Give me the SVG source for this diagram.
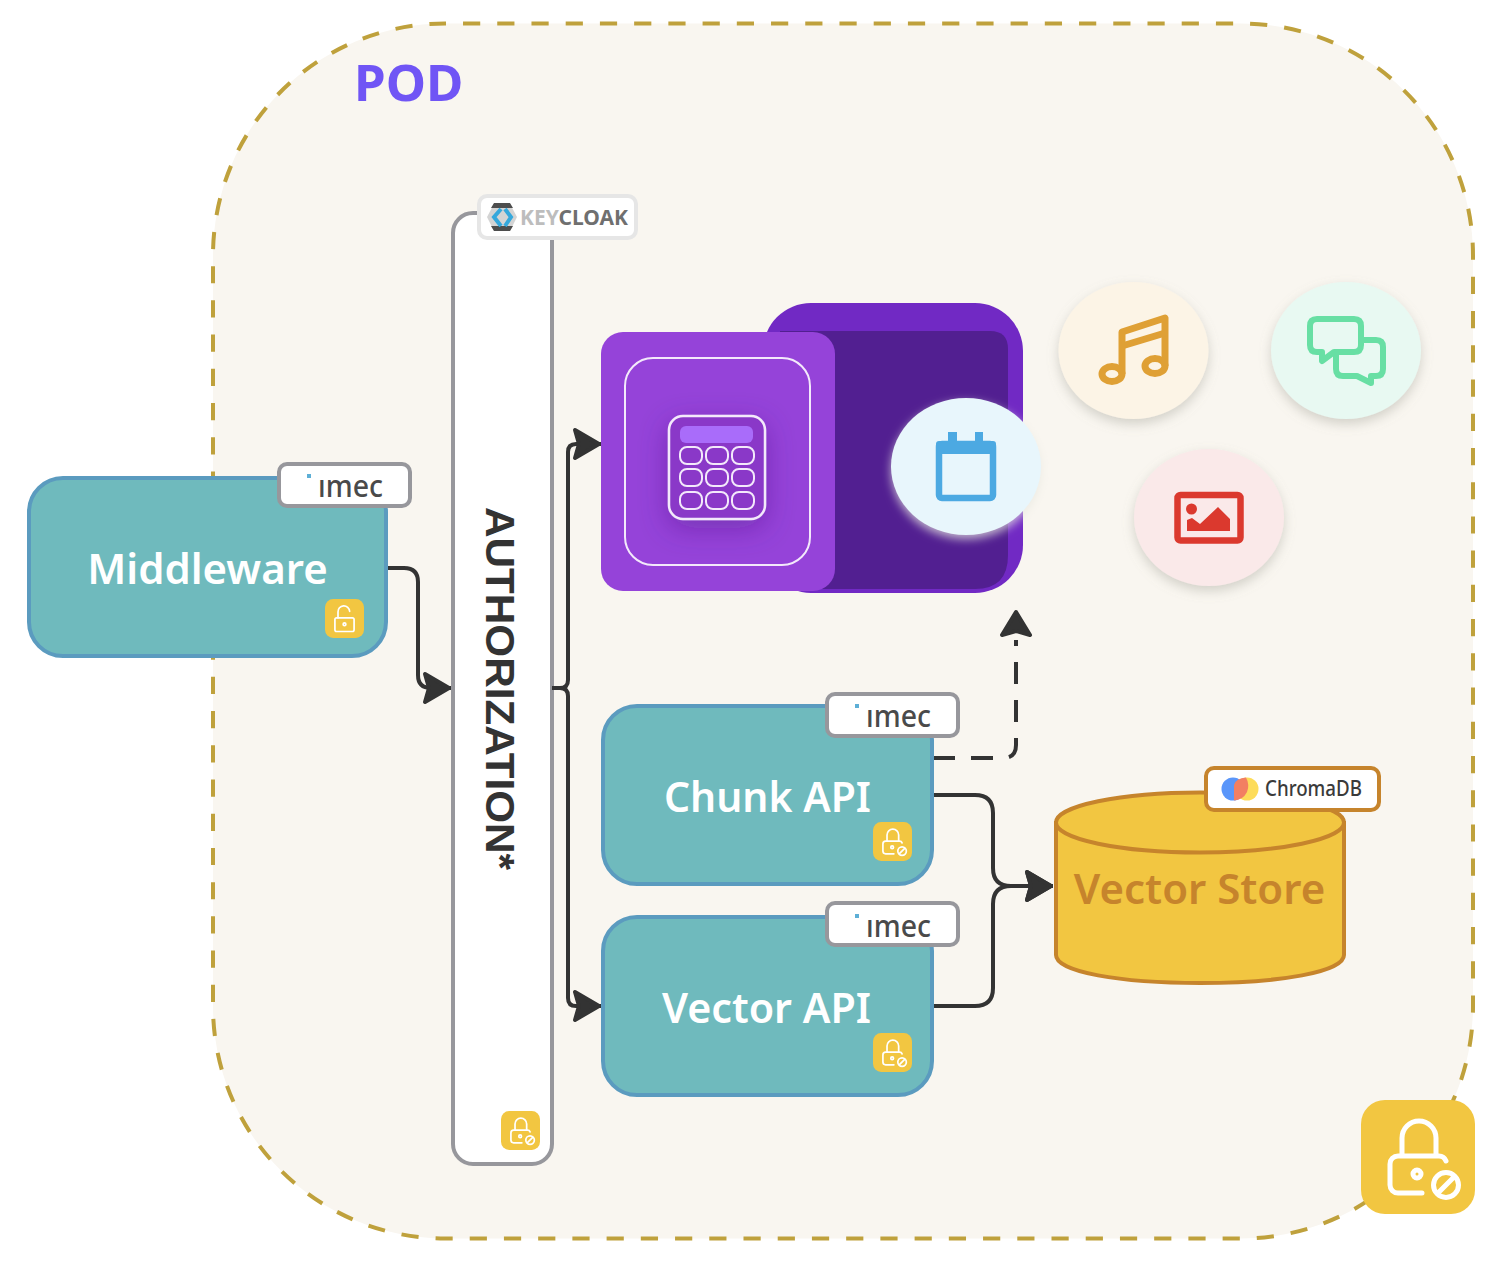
<svg xmlns="http://www.w3.org/2000/svg" width="1498" height="1264" viewBox="0 0 1498 1264">
<style>
text{font-family:"Noto Sans","Liberation Sans",sans-serif}
.api{fill:#6FBABD;stroke:#5B9BBF;stroke-width:4}
.name{fill:#fff;font-size:42px;font-weight:600;text-anchor:middle}
.badge{fill:#fff;stroke:#97979C;stroke-width:4}
.imec{fill:#4A4A4A;font-size:30px;font-weight:500}
.dot{fill:#5DAFD6}
.lockbg{fill:#F2C641}
.lk{fill:none;stroke:#fff;stroke-width:5;stroke-linecap:round;stroke-linejoin:round}
.conn{fill:none;stroke:#333;stroke-width:4;stroke-linejoin:round}
.cell{fill:#8A38C8;stroke:#F3E9FB;stroke-width:2}
</style>
<defs>
<filter id="sh" x="-20%" y="-20%" width="140%" height="140%"><feDropShadow dx="0" dy="5" stdDeviation="6" flood-color="#8a8a80" flood-opacity=".35"/></filter>
<filter id="glow" x="-20%" y="-20%" width="140%" height="140%"><feDropShadow dx="0" dy="4" stdDeviation="5" flood-color="#e8e8e0" flood-opacity=".75"/></filter>
<filter id="cs" x="-40%" y="-40%" width="180%" height="180%"><feDropShadow dx="0" dy="8" stdDeviation="14" flood-color="#4a1a80" flood-opacity=".4"/></filter>
<marker id="arrow" markerUnits="userSpaceOnUse" markerWidth="40" markerHeight="40" viewBox="-32 -20 40 40" refX="0" refY="0" orient="auto" overflow="visible">
<path d="M-26,-14 L-2,0 L-26,14 L-22,0 Z" fill="#333" stroke="#333" stroke-width="4" stroke-linejoin="round"/>
</marker>
<symbol id="lock-off" viewBox="0 0 114 114">
<rect width="114" height="114" rx="24" class="lockbg"/>
<path class="lk" d="M41,55 V38 a17,17 0 0 1 34,0 V55"/>
<path class="lk" d="M85,61 q-2,-5 -7,-5 H37 a8,8 0 0 0 -8,8 V85 a8,8 0 0 0 8,8 H61"/>
<circle class="lk" cx="56" cy="74" r="4"/>
<circle class="lk" cx="85" cy="85" r="12.5"/>
<path class="lk" d="M78,92 L92,78"/>
</symbol>
<symbol id="lock-open" viewBox="0 0 114 114">
<rect width="114" height="114" rx="24" class="lockbg"/>
<path class="lk" d="M38,55 V38 a17,17 0 0 1 34,-2"/>
<rect class="lk" x="29" y="55" width="56" height="40" rx="5"/>
<circle class="lk" cx="57" cy="74" r="4"/>
</symbol>
</defs>

<g id="pod">
<rect x="213" y="23.500" width="1260" height="1215" rx="232" fill="#F9F6F0" stroke="#BFA13C" stroke-width="4" stroke-dasharray="17.2 17.023" stroke-dashoffset="16.2"/>
<text x="354" y="101" fill="#7055F5" font-size="51" font-weight="700">POD</text>
</g>

<g id="authorization">
<rect x="453" y="213" width="99" height="951" rx="20" fill="#fff" stroke="#97979C" stroke-width="4"/>
<text transform="translate(486,507) rotate(90)" fill="#333" font-size="41" font-weight="700" textLength="363" lengthAdjust="spacingAndGlyphs" style="font-family:'Liberation Sans',sans-serif">AUTHORIZATION*</text>
<use href="#lock-off" x="501" y="1111" width="39" height="39"/>
</g>
<g id="keycloak-badge">
<rect x="479" y="196" width="157" height="42" rx="8" fill="#fff" stroke="#E6E6E6" stroke-width="4"/>
<path d="M487,217 L494,204 H510 L517,217 L510,231 H494 Z" fill="#D4D4D4"/>
<path d="M494,203 H510 L513,208 H491 Z M491,226 H513 L510,231 H494 Z" fill="#4D4D4D"/>
<path d="M501,209 L494,217 L501,226 M505,209 L511,217 L505,226" fill="none" stroke="#35A8DC" stroke-width="4"/>
<text x="520" y="225" font-size="22" font-weight="700" textLength="108" lengthAdjust="spacingAndGlyphs"><tspan fill="#BDBDBD">KEY</tspan><tspan fill="#6F6F6F">CLOAK</tspan></text>
</g>

<g id="connectors">
<path class="conn" marker-end="url(#arrow)" d="M386,568 H404 Q418,568 418,582 V675 Q418,688 431,688 H451"/>
<path class="conn" marker-end="url(#arrow)" d="M552,688 H560 Q568,688 568,680 V452 Q568,444 576,444 H601"/>
<path class="conn" marker-end="url(#arrow)" d="M552,688 H560 Q568,688 568,696 V998 Q568,1006 576,1006 H601"/>
<path class="conn" stroke-dasharray="22 16" d="M933,758 H1003 Q1016,758 1016,745 V640"/>
<path d="M1002,635 L1016,612 L1030,635 L1016,631 Z" fill="#333" stroke="#333" stroke-width="4" stroke-linejoin="round"/>
<path class="conn" marker-end="url(#arrow)" d="M933,795 H975 Q993,795 993,813 V868 Q993,886 1011,886 H1053"/>
<path class="conn" marker-end="url(#arrow)" d="M933,1006 H975 Q993,1006 993,988 V904 Q993,886 1011,886 H1053"/>
</g>

<g id="middleware">
<rect class="api" x="29" y="478" width="357" height="178" rx="34"/>
<text class="name" x="207.500" y="584">Middleware</text>
<use href="#lock-open" x="325" y="599" width="39" height="39"/>
<rect class="badge" x="279" y="464" width="131" height="42" rx="8"/>
<rect class="dot" x="307" y="474" width="4" height="4"/>
<text class="imec" x="318" y="497" textLength="65" lengthAdjust="spacingAndGlyphs">ımec</text>
</g>

<g id="chunk-api">
<rect class="api" x="603" y="706" width="329" height="178" rx="34"/>
<text class="name" x="767.500" y="811.500" textLength="207" lengthAdjust="spacingAndGlyphs">Chunk API</text>
<use href="#lock-off" x="873" y="822" width="39" height="39"/>
<rect class="badge" x="827" y="694" width="131" height="42" rx="8"/>
<rect class="dot" x="855" y="704" width="4" height="4"/>
<text class="imec" x="866" y="727" textLength="65" lengthAdjust="spacingAndGlyphs">ımec</text>
</g>

<g id="vector-api">
<rect class="api" x="603" y="917" width="329" height="178" rx="34"/>
<text class="name" x="766.500" y="1023" textLength="209" lengthAdjust="spacingAndGlyphs">Vector API</text>
<use href="#lock-off" x="873" y="1033" width="39" height="39"/>
<rect class="badge" x="827" y="903" width="131" height="42" rx="8"/>
<rect class="dot" x="855" y="914" width="4" height="4"/>
<text class="imec" x="866" y="937" textLength="65" lengthAdjust="spacingAndGlyphs">ımec</text>
</g>

<g id="vector-store">
<path d="M1056,823 V955 C1056,972 1120,983 1200,983 C1280,983 1344,972 1344,955 V823 Z" fill="#F2C641" stroke="#C6842C" stroke-width="4"/>
<ellipse cx="1200" cy="822.500" rx="144" ry="30" fill="#F2C641" stroke="#C6842C" stroke-width="4"/>
<text x="1199.500" y="904" fill="#C6842C" font-size="42" font-weight="600" text-anchor="middle">Vector Store</text>
<rect x="1206" y="768" width="173" height="42" rx="8" fill="#fff" stroke="#C6842C" stroke-width="4"/>
<circle cx="1233" cy="789" r="11.500" fill="#5A96FA"/>
<circle cx="1247" cy="789" r="11.500" fill="#FDDC5A"/>
<path d="M1234,800.500 V785 Q1236,778 1246,777.500 Q1250,785 1247,792 Q1243,800 1234,800.500 Z" fill="#F27F62"/>
<text x="1265" y="796" fill="#3A3A3A" font-size="21" font-weight="500" textLength="97" lengthAdjust="spacingAndGlyphs">ChromaDB</text>
</g>

<g id="purple-card">
<rect x="763" y="303" width="260" height="290" rx="48" fill="#7129C4"/>
<path d="M780,331 H990 Q1008,331 1008,349 V555 Q1008,589 975,589 H780 Z" fill="#521F91"/>
<rect x="601" y="332" width="234" height="259" rx="22" fill="#9543D9"/>
<rect x="625" y="358" width="185" height="207" rx="28" fill="none" stroke="#F3E9FB" stroke-width="2"/>
<rect x="669" y="416" width="96" height="103" rx="14" fill="#8A38C8" stroke="#F3E9FB" stroke-width="2.500" filter="url(#cs)"/>
<rect x="680" y="426" width="73" height="17" rx="6" fill="#A96CFA"/>
<rect class="cell" x="680" y="447" width="22" height="17" rx="7"/><rect class="cell" x="706" y="447" width="22" height="17" rx="7"/><rect class="cell" x="732" y="447" width="22" height="17" rx="7"/>
<rect class="cell" x="680" y="469" width="22" height="17" rx="7"/><rect class="cell" x="706" y="469" width="22" height="17" rx="7"/><rect class="cell" x="732" y="469" width="22" height="17" rx="7"/>
<rect class="cell" x="680" y="492" width="22" height="17" rx="7"/><rect class="cell" x="706" y="492" width="22" height="17" rx="7"/><rect class="cell" x="732" y="492" width="22" height="17" rx="7"/>
</g>

<g id="calendar">
<ellipse cx="966" cy="466.500" rx="75" ry="68.500" fill="#E8F6FC" filter="url(#glow)"/>
<rect x="939" y="444" width="54" height="54" rx="3" fill="none" stroke="#4CA9E2" stroke-width="6.500"/>
<path d="M939,441 H993 Q996,441 996,444 V454 H936 V444 Q936,441 939,441 Z M948,432 H957 V442 H948 Z M975,432 H983 V442 H975 Z" fill="#4CA9E2"/>
</g>

<g id="music">
<ellipse cx="1133.500" cy="350.500" rx="75" ry="68.500" fill="#FCF4E6" filter="url(#sh)"/>
<g fill="none" stroke="#DFA035" stroke-width="7" stroke-linejoin="round">
<path d="M1122,374 V332 L1165,318 V366"/>
<path d="M1122,346 L1165,333"/>
<ellipse cx="1112" cy="374" rx="10" ry="7.500"/>
<ellipse cx="1155" cy="366" rx="10" ry="7.500"/>
</g>
</g>

<g id="chat">
<ellipse cx="1346" cy="350.500" rx="75" ry="68.500" fill="#E8F9F2" filter="url(#sh)"/>
<g fill="none" stroke="#68DFA4" stroke-width="6" stroke-linejoin="round">
<path d="M1317,319 H1354 Q1361,319 1361,326 V345 Q1361,352 1354,352 H1334 L1322,361 V352 H1317 Q1310,352 1310,345 V326 Q1310,319 1317,319 Z"/>
<path d="M1361,340 H1376 Q1383,340 1383,347 V369 Q1383,376 1376,376 H1371 V383 L1357,376 H1343 Q1336,376 1336,369 V354"/>
</g>
</g>

<g id="picture">
<ellipse cx="1209" cy="517.500" rx="75" ry="68.500" fill="#FAE9E9" filter="url(#sh)"/>
<rect x="1177.500" y="495" width="63" height="45.500" rx="3" fill="none" stroke="#DB392E" stroke-width="6.500"/>
<circle cx="1191.500" cy="509" r="5.500" fill="#DB392E"/>
<path d="M1187,531 V520 L1192,518 L1200,524 L1218,507 L1230,519 V531 Z" fill="#DB392E"/>
</g>

<g id="pod-lock">
<use href="#lock-off" x="1361" y="1100" width="114" height="114"/>
</g>
</svg>
